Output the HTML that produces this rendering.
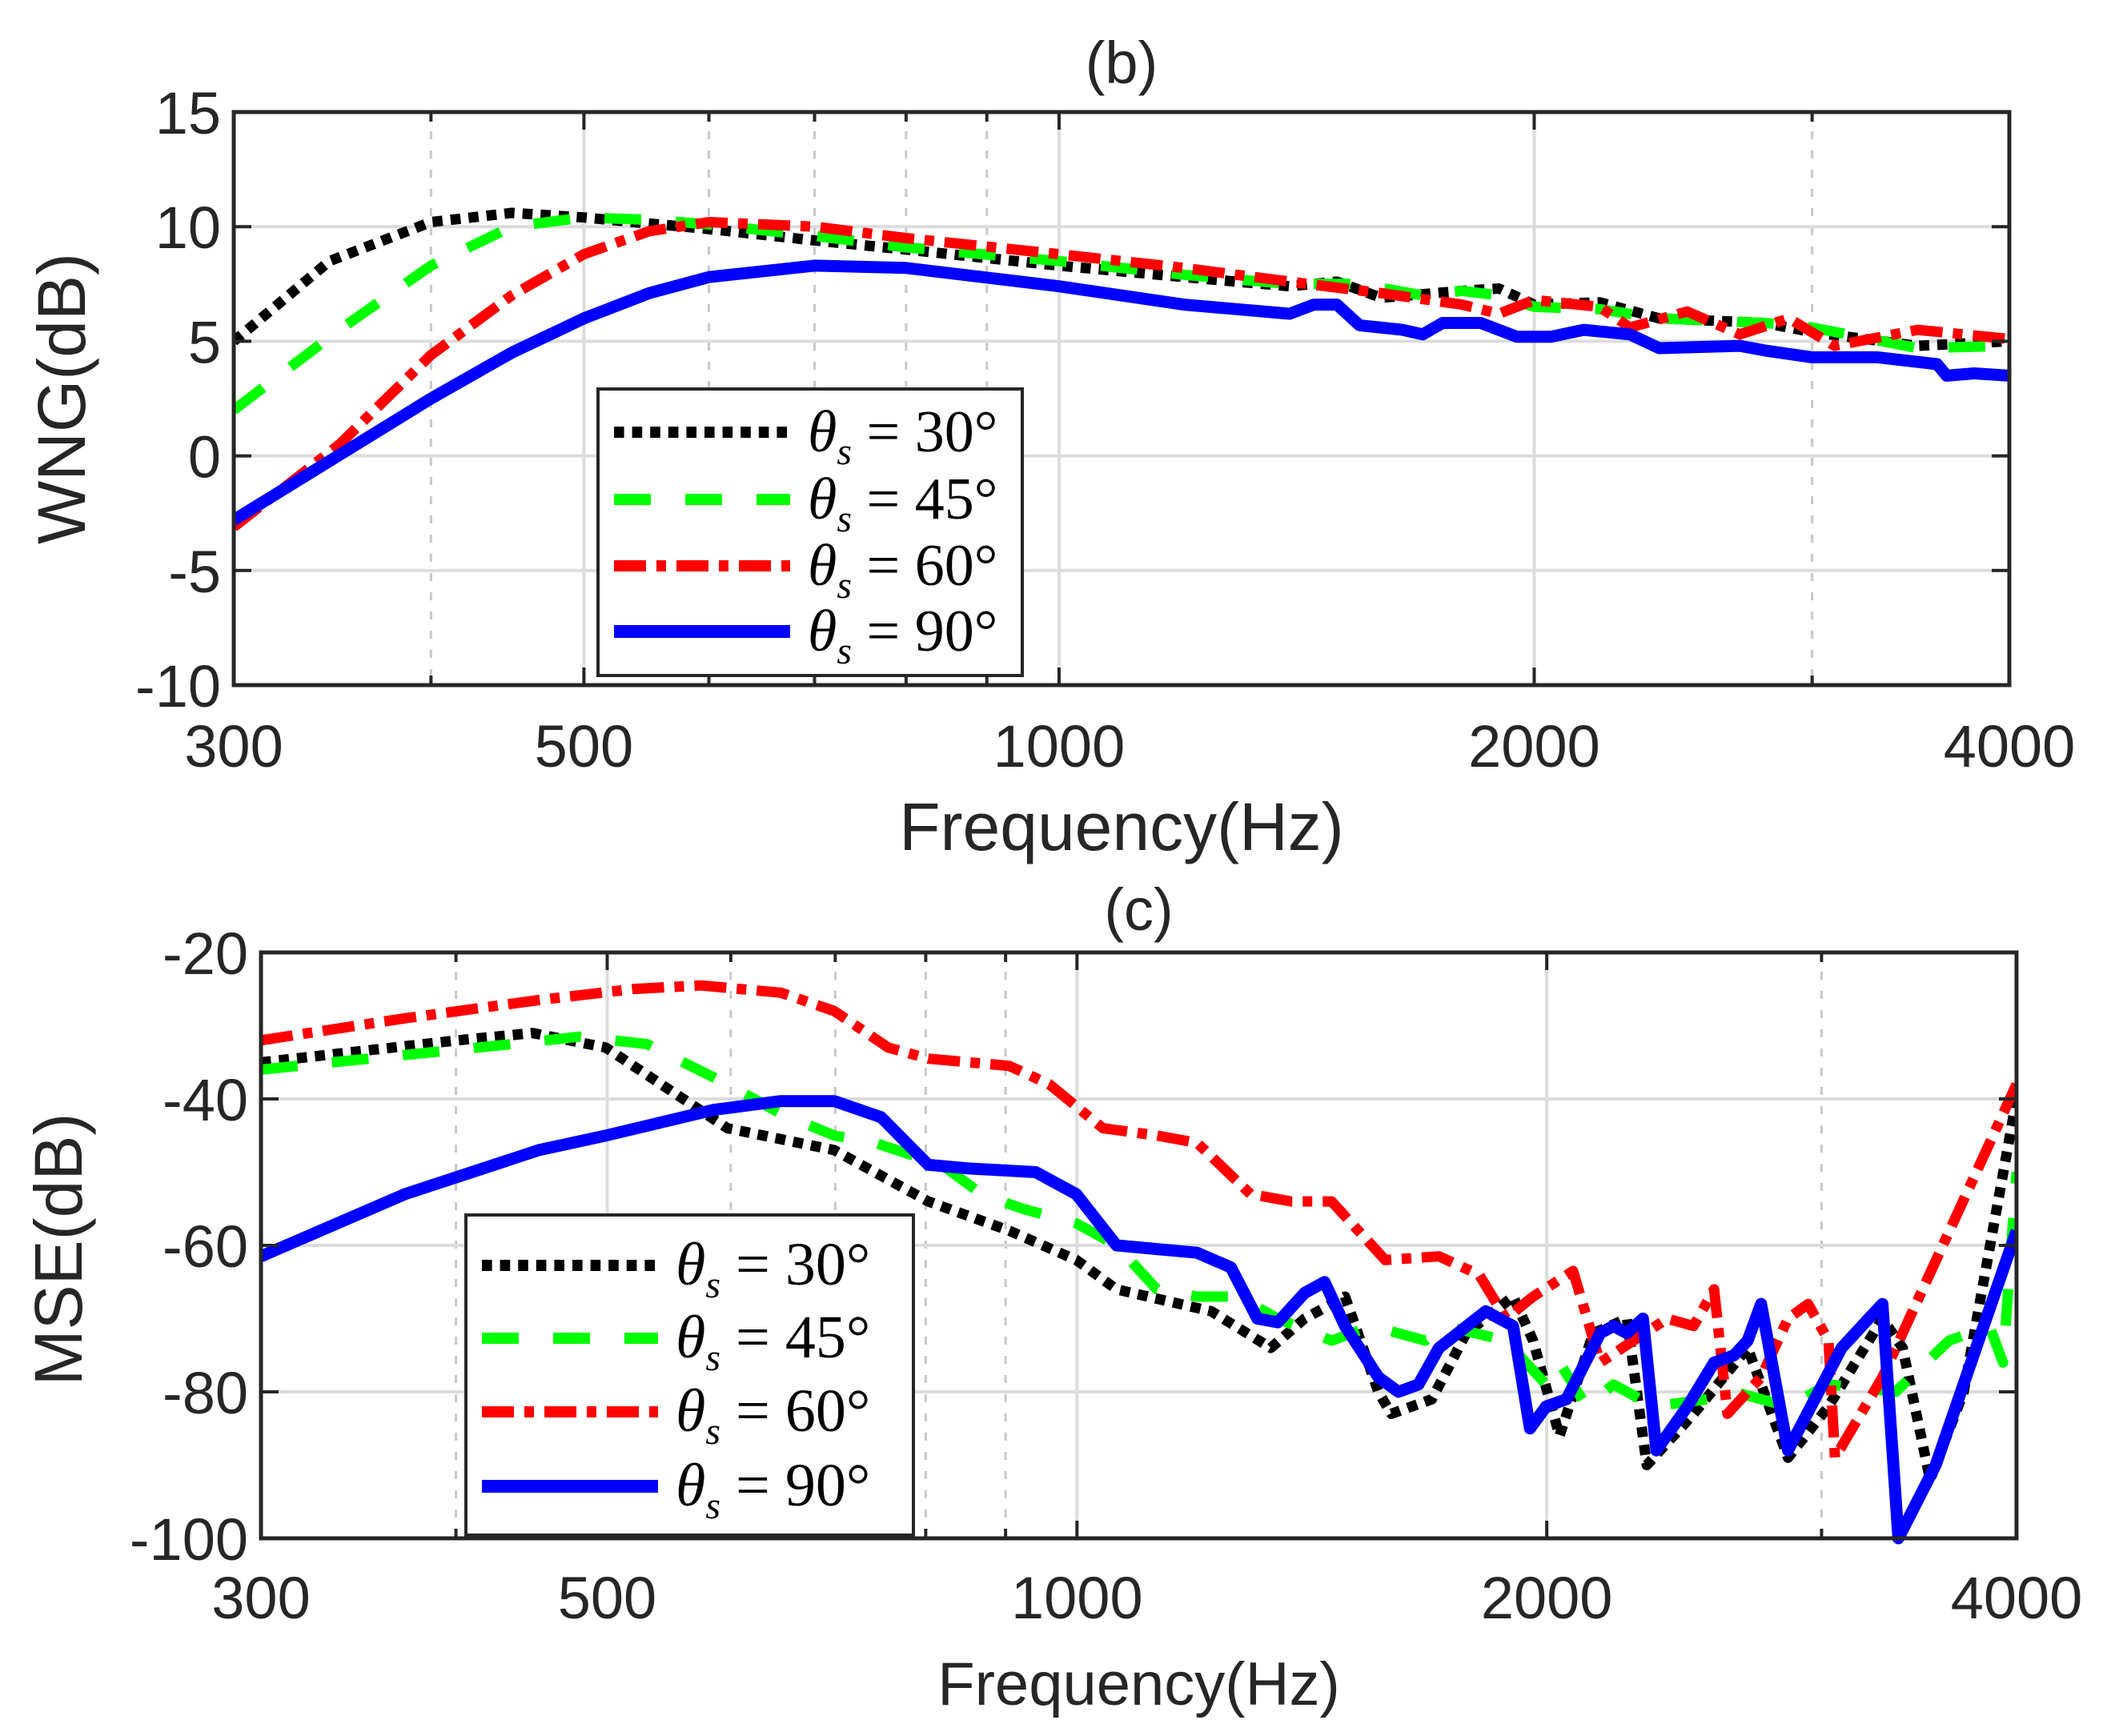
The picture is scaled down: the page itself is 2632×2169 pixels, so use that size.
<!DOCTYPE html>
<html><head><meta charset="utf-8"><style>
html,body{margin:0;padding:0;background:#fff}
svg{display:block}
text{font-family:"Liberation Sans",sans-serif;fill:#262626}
.lg{font-family:"Liberation Serif",serif;fill:#000}
</style></head><body>
<svg id="fig" width="2632" height="2169" viewBox="0 0 2632 2169" xmlns="http://www.w3.org/2000/svg"></svg>
<script>
// ---------- data: panel (b) WNG ----------
const wngF30=[300,345,400,450,500,600,700,800,1000,1200,1400,1500,1600,1800,1900,2000,2200,2400,2800,3000,3500,4000];
const wngV30=[5,8.5,10.2,10.6,10.4,9.9,9.4,9.0,8.3,7.8,7.4,7.6,6.9,7.2,7.3,6.6,6.7,6.0,5.8,5.4,4.8,5.0];
const wngF45=[300,350,400,450,500,550,600,700,800,1000,1200,1400,1550,1700,1800,1900,2000,2200,2400,2800,3000,3500,4000];
const wngV45=[2,5.5,8.3,10.0,10.4,10.3,10.1,9.6,9.1,8.5,7.9,7.5,7.5,7.0,7.2,7.0,6.5,6.4,6.0,5.8,5.6,4.7,4.8];
const wngF60=[300,350,400,450,500,550,600,700,800,1000,1200,1400,1600,1800,1900,2000,2200,2300,2500,2700,2900,3100,3500,4000];
const wngV60=[-3.1,0.5,4.4,7.0,8.8,9.8,10.2,10.0,9.5,8.8,8.2,7.6,7.1,6.6,6.2,6.8,6.5,5.6,6.3,5.3,6.0,4.8,5.5,5.1];
const wngF90=[300,400,450,500,550,600,700,800,1000,1200,1400,1450,1500,1550,1650,1700,1750,1850,1950,2050,2150,2300,2400,2700,2800,3000,3300,3600,3650,3800,4000];
const wngV90=[-2.8,2.5,4.5,6.0,7.1,7.8,8.3,8.2,7.4,6.6,6.2,6.6,6.6,5.7,5.5,5.3,5.8,5.8,5.2,5.2,5.5,5.3,4.7,4.8,4.6,4.3,4.3,4.0,3.5,3.6,3.5];
// ---------- data: panel (c) MSE ----------
const mseF30=[300,401,448,499,597,699,803,905,999,1060,1219,1331,1399,1485,1560,1590,1688,1776,1903,1960,2038,2142,2251,2318,2484,2690,2855,3031,3282,3381,3521,3700,4000];
const mseV30=[-35,-32,-31,-33,-44,-47,-54,-58,-62,-66,-69,-74,-70,-67,-80,-83,-81,-72,-67,-73,-86,-72,-70,-90,-83,-74,-89,-82,-70,-74,-92,-80,-40];
const mseF45=[300,371,435,480,530,597,646,699,742,819,869,923,999,1060,1125,1194,1267,1345,1456,1545,1672,1723,1883,1998,2038,2121,2207,2342,2535,2637,2855,3031,3346,3621,3843,3921,4000];
const mseV45=[-36,-34,-32.5,-31.5,-32.5,-38,-42,-45,-46,-49,-53,-55,-57,-60,-66,-67,-67,-70,-73,-71,-73,-71,-73,-79,-76,-82,-79,-82,-81,-80,-82,-79,-80,-73,-71,-76,-50];
const mseF60=[300,371,452,519,574,646,699,757,803,905,960,1039,1125,1194,1292,1372,1456,1576,1706,1810,1883,1960,2079,2164,2273,2389,2484,2560,2611,2744,2855,2941,3031,3060,3282,4000];
const mseV60=[-32,-29,-26.5,-25,-24.5,-25.5,-28,-33,-34.5,-35.5,-38,-44,-45,-46,-53,-54,-54,-62,-61.5,-64,-70,-67,-63.5,-76,-73,-70,-71,-66,-83,-78,-70,-68,-73,-89,-78,-38];
const mseF90=[300,371,452,499,585,646,699,749,803,852,941,999,1060,1125,1194,1255,1305,1345,1399,1441,1485,1560,1607,1655,1706,1828,1903,1951,1998,2059,2164,2207,2251,2305,2351,2461,2560,2637,2690,2744,2855,2970,3090,3216,3282,3360,3550,4000];
const mseV90=[-61.5,-53,-47,-45,-41.5,-40.3,-40.3,-42.5,-49,-49.5,-50,-53,-60,-60.5,-61,-63,-70,-70.5,-66.5,-65,-71,-78,-80,-79,-74,-69,-71,-85,-82,-81,-72,-71,-72,-70,-88,-82,-76,-75,-73,-68,-88,-81,-74,-70,-68,-100,-90,-58];
// ---------- axis tick labels ----------
const xTicks=[300,500,1000,2000,4000];
const xMinor=[400,600,700,800,900,3000];
const wngYTicks=[15,10,5,0,-5,-10];
const mseYTicks=[-20,-40,-60,-80,-100];
const legendLabels=["30","45","60","90"];

const NS="http://www.w3.org/2000/svg";
const svg=document.getElementById('fig');
function el(tag,attrs,parent){const e=document.createElementNS(NS,tag);for(const k in attrs)e.setAttribute(k,attrs[k]);(parent||svg).appendChild(e);return e;}

const styles=[
 {color:'#000000',dash:'12.6 10',w:13},
 {color:'#00ff00',dash:'46 43',w:13},
 {color:'#ff0000',dash:'40 13 12 13',w:13},
 {color:'#0000ff',dash:'',w:15}
];

function panel(o){
  const g=el('g',{});
  
  
  const lf0=Math.log(300),lf1=Math.log(4000);
  const X=f=>o.L+(Math.log(f)-lf0)/(lf1-lf0)*(o.R-o.L);
  const Y=v=>o.B-(v-o.ymin)/(o.ymax-o.ymin)*(o.B-o.T);
  xMinor.forEach(f=>{const l=el('line',{x1:X(f),x2:X(f),y1:o.T,y2:o.B,stroke:'#c8c8c8','stroke-width':3,'stroke-dasharray':'10 14'},g);
    });
  xTicks.forEach(f=>{const l=el('line',{x1:X(f),x2:X(f),y1:o.T,y2:o.B,stroke:'#dcdcdc','stroke-width':4},g);
    });
  o.yt.forEach(v=>{const l=el('line',{x1:o.L,x2:o.R,y1:Y(v),y2:Y(v),stroke:'#dcdcdc','stroke-width':4},g);
    });
  const clip=el('clipPath',{id:'clip'+o.name},g);
  el('rect',{x:o.L,y:o.T-8,width:o.R-o.L,height:o.B-o.T+16},clip);
  o.series.forEach((s,i)=>{
    const d=s.f.map((f,k)=>(k?'L':'M')+X(f).toFixed(1)+','+Y(s.v[k]).toFixed(1)).join(' ');
    const p=el('path',{d:d,fill:'none',stroke:styles[i].color,'stroke-width':styles[i].w,'stroke-dasharray':styles[i].dash,'stroke-linejoin':'round','clip-path':'url(#clip'+o.name+')'},g);
    
    
  });
  const bx=el('rect',{x:o.L,y:o.T,width:o.R-o.L,height:o.B-o.T,fill:'none',stroke:'#262626','stroke-width':5},g);
  
  xTicks.concat(xMinor).forEach(f=>{const len=xTicks.includes(f)?22:12;
    el('line',{x1:X(f),x2:X(f),y1:o.B,y2:o.B-len,stroke:'#262626','stroke-width':4},g);
    el('line',{x1:X(f),x2:X(f),y1:o.T,y2:o.T+len,stroke:'#262626','stroke-width':4},g);});
  o.yt.forEach(v=>{el('line',{x1:o.L,x2:o.L+22,y1:Y(v),y2:Y(v),stroke:'#262626','stroke-width':4},g);
    el('line',{x1:o.R,x2:o.R-22,y1:Y(v),y2:Y(v),stroke:'#262626','stroke-width':4},g);});
  xTicks.forEach(f=>{const t=el('text',{x:X(f),y:o.xty,'font-size':74,'text-anchor':'middle'},g);t.textContent=f;
    });
  o.yt.forEach(v=>{const t=el('text',{x:o.L-16,y:Y(v)+27,'font-size':74,'text-anchor':'end'},g);t.textContent=v;
    });
  const xl=el('text',{x:(o.L+o.R)/2,y:o.xly,'font-size':o.xlfs,'text-anchor':'middle'},g);xl.textContent='Frequency(Hz)';
  
  const yl=el('text',{x:0,y:0,'font-size':84,'text-anchor':'middle',transform:`translate(${o.ylx},${o.yly}) rotate(-90)`},g);yl.textContent=o.ylabel;
  
  const ti=el('text',{x:(o.L+o.R)/2,y:o.titley,'font-size':74,'text-anchor':'middle'},g);ti.textContent=o.title;
  
  const lg=el('g',{},g);
  
  el('rect',{x:o.lgx,y:o.lgy,width:o.lgw,height:o.lgh,fill:'#fff',stroke:'#262626','stroke-width':4},lg);
  o.lgRows.forEach((ry,i)=>{
    const e=el('g',{},lg);
    
    
    el('line',{x1:o.lgx+20,x2:o.lgx+240,y1:ry,y2:ry,stroke:styles[i].color,'stroke-width':styles[i].w+1,'stroke-dasharray':styles[i].dash},e);
    const t=el('text',{x:o.lgx+262,y:ry+24,'font-size':o.lgfs,class:'lg'},e);
    t.innerHTML='<tspan font-style="italic">θ</tspan><tspan font-style="italic" font-size="48" dy="16">s</tspan><tspan dy="-16"> = '+legendLabels[i]+'°</tspan>';
  });
}

panel({name:'wng-panel',L:292,R:2510,T:140,B:856,ymin:-10,ymax:15,yt:wngYTicks,xty:958,xly:1062,xlfs:84,ylx:106,yly:498,ylabel:'WNG(dB)',title:'(b)',titley:104,
  series:[{f:wngF30,v:wngV30},{f:wngF45,v:wngV45},{f:wngF60,v:wngV60},{f:wngF90,v:wngV90}],
  lgx:747,lgy:486,lgw:530,lgh:358,lgRows:[540,624,707,789],lgfs:74});
panel({name:'mse-panel',L:326,R:2519,T:1190,B:1922,ymin:-100,ymax:-20,yt:mseYTicks,xty:2022,xly:2130,xlfs:76,ylx:102,yly:1561,ylabel:'MSE(dB)',title:'(c)',titley:1162,
  series:[{f:mseF30,v:mseV30},{f:mseF45,v:mseV45},{f:mseF60,v:mseV60},{f:mseF90,v:mseV90}],
  lgx:582,lgy:1518,lgw:559,lgh:400,lgRows:[1581,1672,1764,1857],lgfs:76});
</script>
</body></html>
